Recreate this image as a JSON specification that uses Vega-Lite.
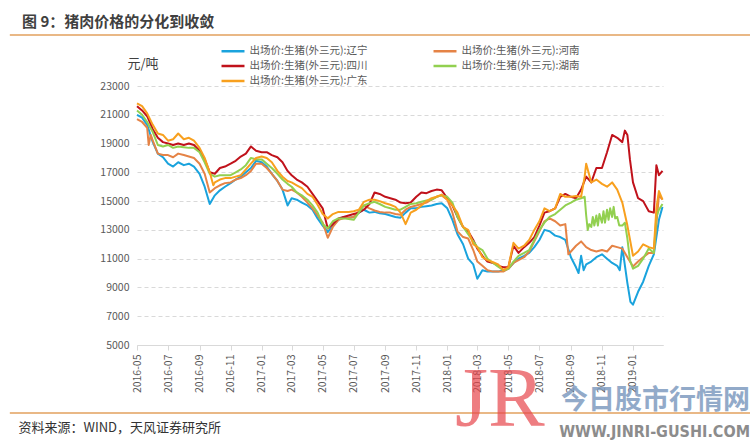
{
"$schema":"https://vega.github.io/schema/vega-lite/v6.json",
"width":526,"height":259,
"autosize":{"type":"none"},
"padding":{"left":137,"top":86,"right":91,"bottom":102},
"background":"white",
"title":{"text":"图 9：猪肉价格的分化到收敛","anchor":"start","frame":"group","dx":-115,"fontSize":15,"fontWeight":"bold","color":"#404040","font":"Noto Sans CJK SC","offset":4},
"config":{"view":{"stroke":null},"font":"Noto Sans CJK SC","axis":{"labelOverlap":false,"labelBound":false,"labelFlush":false}},
"layer":[
{"data":{"values":[{}]},"mark":{"type":"rule","color":"#E2A15E","strokeWidth":1.5},"encoding":{"x":{"datum":{"year":2015,"month":8,"date":25,"utc":true},"type":"temporal"},"x2":{"datum":{"year":2019,"month":8,"date":19,"utc":true}},"y":{"datum":26550,"type":"quantitative"}}},
{"data":{"values":[{}]},"mark":{"type":"rule","color":"#E2A15E","strokeWidth":1.5},"encoding":{"x":{"datum":{"year":2015,"month":8,"date":25,"utc":true},"type":"temporal"},"x2":{"datum":{"year":2019,"month":8,"date":19,"utc":true}},"y":{"datum":270,"type":"quantitative"}}},
{"data":{"values":[
{"d":"2016-05-01","s":"辽宁","v":21000},{"d":"2016-05-11","s":"辽宁","v":20800},{"d":"2016-05-21","s":"辽宁","v":20300},
{"d":"2016-06-01","s":"辽宁","v":19100},{"d":"2016-06-11","s":"辽宁","v":18300},{"d":"2016-06-21","s":"辽宁","v":18050},
{"d":"2016-07-01","s":"辽宁","v":17600},{"d":"2016-07-11","s":"辽宁","v":17400},{"d":"2016-07-21","s":"辽宁","v":17700},
{"d":"2016-08-01","s":"辽宁","v":17500},{"d":"2016-08-11","s":"辽宁","v":17600},{"d":"2016-08-21","s":"辽宁","v":17400},
{"d":"2016-09-01","s":"辽宁","v":16900},{"d":"2016-09-11","s":"辽宁","v":16000},{"d":"2016-09-21","s":"辽宁","v":14800},
{"d":"2016-10-01","s":"辽宁","v":15400},{"d":"2016-10-11","s":"辽宁","v":15750},{"d":"2016-10-21","s":"辽宁","v":16000},
{"d":"2016-11-01","s":"辽宁","v":16250},{"d":"2016-11-11","s":"辽宁","v":16500},{"d":"2016-11-21","s":"辽宁","v":16700},
{"d":"2016-12-01","s":"辽宁","v":17000},{"d":"2016-12-11","s":"辽宁","v":17300},{"d":"2016-12-21","s":"辽宁","v":17800},
{"d":"2017-01-01","s":"辽宁","v":17700},{"d":"2017-01-11","s":"辽宁","v":17400},{"d":"2017-01-21","s":"辽宁","v":16900},
{"d":"2017-02-01","s":"辽宁","v":16400},{"d":"2017-02-11","s":"辽宁","v":15800},{"d":"2017-02-21","s":"辽宁","v":14700},
{"d":"2017-03-01","s":"辽宁","v":15200},{"d":"2017-03-11","s":"辽宁","v":15100},{"d":"2017-03-21","s":"辽宁","v":14900},
{"d":"2017-04-01","s":"辽宁","v":14700},{"d":"2017-04-11","s":"辽宁","v":14400},{"d":"2017-04-21","s":"辽宁","v":13800},
{"d":"2017-05-01","s":"辽宁","v":13300},{"d":"2017-05-11","s":"辽宁","v":12850},{"d":"2017-05-21","s":"辽宁","v":13300},
{"d":"2017-06-01","s":"辽宁","v":13700},{"d":"2017-06-11","s":"辽宁","v":13900},{"d":"2017-06-21","s":"辽宁","v":13850},
{"d":"2017-07-01","s":"辽宁","v":13900},{"d":"2017-07-11","s":"辽宁","v":14200},{"d":"2017-07-21","s":"辽宁","v":14400},
{"d":"2017-08-01","s":"辽宁","v":14200},{"d":"2017-08-11","s":"辽宁","v":14250},{"d":"2017-08-21","s":"辽宁","v":14150},
{"d":"2017-09-01","s":"辽宁","v":14100},{"d":"2017-09-11","s":"辽宁","v":14000},{"d":"2017-09-21","s":"辽宁","v":13900},
{"d":"2017-10-01","s":"辽宁","v":13850},{"d":"2017-10-11","s":"辽宁","v":14200},{"d":"2017-10-21","s":"辽宁","v":14500},
{"d":"2017-11-01","s":"辽宁","v":14500},{"d":"2017-11-11","s":"辽宁","v":14600},{"d":"2017-11-21","s":"辽宁","v":14650},
{"d":"2017-12-01","s":"辽宁","v":14700},{"d":"2017-12-11","s":"辽宁","v":14800},{"d":"2017-12-21","s":"辽宁","v":14850},
{"d":"2018-01-01","s":"辽宁","v":14500},{"d":"2018-01-11","s":"辽宁","v":13700},{"d":"2018-01-21","s":"辽宁","v":12700},
{"d":"2018-02-01","s":"辽宁","v":12000},{"d":"2018-02-11","s":"辽宁","v":11000},{"d":"2018-02-21","s":"辽宁","v":10600},
{"d":"2018-03-01","s":"辽宁","v":9600},{"d":"2018-03-11","s":"辽宁","v":10200},{"d":"2018-03-21","s":"辽宁","v":10100},
{"d":"2018-04-01","s":"辽宁","v":10100},{"d":"2018-04-11","s":"辽宁","v":10100},{"d":"2018-04-21","s":"辽宁","v":10200},
{"d":"2018-05-01","s":"辽宁","v":10300},{"d":"2018-05-11","s":"辽宁","v":10700},{"d":"2018-05-21","s":"辽宁","v":11000},
{"d":"2018-06-01","s":"辽宁","v":11200},{"d":"2018-06-11","s":"辽宁","v":11400},{"d":"2018-06-21","s":"辽宁","v":11800},
{"d":"2018-07-01","s":"辽宁","v":12300},{"d":"2018-07-11","s":"辽宁","v":13000},{"d":"2018-07-21","s":"辽宁","v":12900},
{"d":"2018-08-01","s":"辽宁","v":12600},{"d":"2018-08-11","s":"辽宁","v":12500},{"d":"2018-08-21","s":"辽宁","v":12300},
{"d":"2018-09-01","s":"辽宁","v":11100},{"d":"2018-09-11","s":"辽宁","v":10400},{"d":"2018-09-16","s":"辽宁","v":10000},{"d":"2018-09-21","s":"辽宁","v":11200},{"d":"2018-09-26","s":"辽宁","v":10200},
{"d":"2018-10-01","s":"辽宁","v":10600},{"d":"2018-10-11","s":"辽宁","v":10800},{"d":"2018-10-21","s":"辽宁","v":11100},
{"d":"2018-11-01","s":"辽宁","v":11300},{"d":"2018-11-11","s":"辽宁","v":11000},{"d":"2018-11-21","s":"辽宁","v":10700},
{"d":"2018-12-01","s":"辽宁","v":10500},{"d":"2018-12-06","s":"辽宁","v":10200},{"d":"2018-12-11","s":"辽宁","v":11800},{"d":"2018-12-21","s":"辽宁","v":9300},{"d":"2018-12-27","s":"辽宁","v":8000},
{"d":"2019-01-01","s":"辽宁","v":7800},{"d":"2019-01-11","s":"辽宁","v":8700},{"d":"2019-01-21","s":"辽宁","v":9400},
{"d":"2019-02-01","s":"辽宁","v":10500},{"d":"2019-02-11","s":"辽宁","v":11300},{"d":"2019-02-21","s":"辽宁","v":13700},{"d":"2019-02-28","s":"辽宁","v":14600},

{"d":"2016-05-01","s":"河南","v":20700},{"d":"2016-05-11","s":"河南","v":20500},{"d":"2016-05-21","s":"河南","v":20100},{"d":"2016-05-24","s":"河南","v":18900},{"d":"2016-05-28","s":"河南","v":19600},
{"d":"2016-06-01","s":"河南","v":19200},{"d":"2016-06-11","s":"河南","v":18300},{"d":"2016-06-21","s":"河南","v":18200},
{"d":"2016-07-01","s":"河南","v":18200},{"d":"2016-07-11","s":"河南","v":18050},{"d":"2016-07-21","s":"河南","v":18300},
{"d":"2016-08-01","s":"河南","v":18200},{"d":"2016-08-11","s":"河南","v":18100},{"d":"2016-08-21","s":"河南","v":18000},
{"d":"2016-09-01","s":"河南","v":17600},{"d":"2016-09-11","s":"河南","v":16900},{"d":"2016-09-21","s":"河南","v":15600},
{"d":"2016-10-01","s":"河南","v":15900},{"d":"2016-10-11","s":"河南","v":16100},{"d":"2016-10-21","s":"河南","v":16250},
{"d":"2016-11-01","s":"河南","v":16300},{"d":"2016-11-11","s":"河南","v":16500},{"d":"2016-11-21","s":"河南","v":16600},
{"d":"2016-12-01","s":"河南","v":16800},{"d":"2016-12-11","s":"河南","v":17100},{"d":"2016-12-21","s":"河南","v":17600},
{"d":"2017-01-01","s":"河南","v":17600},{"d":"2017-01-11","s":"河南","v":17300},{"d":"2017-01-21","s":"河南","v":16900},
{"d":"2017-02-01","s":"河南","v":16400},{"d":"2017-02-11","s":"河南","v":15800},{"d":"2017-02-21","s":"河南","v":15700},
{"d":"2017-03-01","s":"河南","v":15800},{"d":"2017-03-11","s":"河南","v":15600},{"d":"2017-03-21","s":"河南","v":15300},
{"d":"2017-04-01","s":"河南","v":14900},{"d":"2017-04-11","s":"河南","v":14500},{"d":"2017-04-21","s":"河南","v":14000},
{"d":"2017-05-01","s":"河南","v":13500},{"d":"2017-05-11","s":"河南","v":12450},{"d":"2017-05-21","s":"河南","v":13200},
{"d":"2017-06-01","s":"河南","v":13700},{"d":"2017-06-11","s":"河南","v":13800},{"d":"2017-06-21","s":"河南","v":13850},
{"d":"2017-07-01","s":"河南","v":13900},{"d":"2017-07-11","s":"河南","v":14300},{"d":"2017-07-21","s":"河南","v":14700},
{"d":"2017-08-01","s":"河南","v":14500},{"d":"2017-08-11","s":"河南","v":14350},{"d":"2017-08-21","s":"河南","v":14250},
{"d":"2017-09-01","s":"河南","v":14200},{"d":"2017-09-11","s":"河南","v":14200},{"d":"2017-09-21","s":"河南","v":14100},
{"d":"2017-10-01","s":"河南","v":14050},{"d":"2017-10-11","s":"河南","v":14400},{"d":"2017-10-21","s":"河南","v":14600},
{"d":"2017-11-01","s":"河南","v":14700},{"d":"2017-11-11","s":"河南","v":14800},{"d":"2017-11-21","s":"河南","v":14900},
{"d":"2017-12-01","s":"河南","v":15100},{"d":"2017-12-11","s":"河南","v":15300},{"d":"2017-12-21","s":"河南","v":15400},
{"d":"2018-01-01","s":"河南","v":15100},{"d":"2018-01-11","s":"河南","v":14200},{"d":"2018-01-21","s":"河南","v":12900},
{"d":"2018-02-01","s":"河南","v":12500},{"d":"2018-02-11","s":"河南","v":12400},{"d":"2018-02-21","s":"河南","v":11600},
{"d":"2018-03-01","s":"河南","v":10800},{"d":"2018-03-11","s":"河南","v":10500},{"d":"2018-03-21","s":"河南","v":10200},
{"d":"2018-04-01","s":"河南","v":10100},{"d":"2018-04-11","s":"河南","v":10100},{"d":"2018-04-21","s":"河南","v":10100},
{"d":"2018-05-01","s":"河南","v":10300},{"d":"2018-05-11","s":"河南","v":10700},{"d":"2018-05-21","s":"河南","v":10900},
{"d":"2018-06-01","s":"河南","v":11100},{"d":"2018-06-11","s":"河南","v":11500},{"d":"2018-06-21","s":"河南","v":12200},
{"d":"2018-07-01","s":"河南","v":12900},{"d":"2018-07-11","s":"河南","v":13600},{"d":"2018-07-21","s":"河南","v":13800},
{"d":"2018-08-01","s":"河南","v":13600},{"d":"2018-08-11","s":"河南","v":13300},{"d":"2018-08-21","s":"河南","v":13400},{"d":"2018-08-27","s":"河南","v":11300},
{"d":"2018-09-01","s":"河南","v":11500},{"d":"2018-09-11","s":"河南","v":11900},{"d":"2018-09-21","s":"河南","v":12200},
{"d":"2018-10-01","s":"河南","v":11800},{"d":"2018-10-11","s":"河南","v":11600},{"d":"2018-10-21","s":"河南","v":11500},
{"d":"2018-11-01","s":"河南","v":11600},{"d":"2018-11-11","s":"河南","v":11500},{"d":"2018-11-21","s":"河南","v":11900},
{"d":"2018-12-01","s":"河南","v":11800},{"d":"2018-12-11","s":"河南","v":11700},{"d":"2018-12-21","s":"河南","v":11100},
{"d":"2019-01-01","s":"河南","v":10450},{"d":"2019-01-11","s":"河南","v":10800},{"d":"2019-01-21","s":"河南","v":11100},
{"d":"2019-02-01","s":"河南","v":11400},{"d":"2019-02-11","s":"河南","v":11400},{"d":"2019-02-21","s":"河南","v":15400},{"d":"2019-02-28","s":"河南","v":15100},

{"d":"2016-05-01","s":"四川","v":21600},{"d":"2016-05-11","s":"四川","v":21300},{"d":"2016-05-21","s":"四川","v":20900},
{"d":"2016-06-01","s":"四川","v":20000},{"d":"2016-06-11","s":"四川","v":19400},{"d":"2016-06-21","s":"四川","v":19100},
{"d":"2016-07-01","s":"四川","v":19000},{"d":"2016-07-11","s":"四川","v":18900},{"d":"2016-07-21","s":"四川","v":19000},
{"d":"2016-08-01","s":"四川","v":18900},{"d":"2016-08-11","s":"四川","v":19000},{"d":"2016-08-21","s":"四川","v":18900},
{"d":"2016-09-01","s":"四川","v":18500},{"d":"2016-09-11","s":"四川","v":17900},{"d":"2016-09-21","s":"四川","v":17000},
{"d":"2016-10-01","s":"四川","v":16900},{"d":"2016-10-11","s":"四川","v":17300},{"d":"2016-10-21","s":"四川","v":17400},
{"d":"2016-11-01","s":"四川","v":17600},{"d":"2016-11-11","s":"四川","v":17800},{"d":"2016-11-21","s":"四川","v":18100},
{"d":"2016-12-01","s":"四川","v":18300},{"d":"2016-12-11","s":"四川","v":18800},{"d":"2016-12-21","s":"四川","v":18500},
{"d":"2017-01-01","s":"四川","v":18400},{"d":"2017-01-11","s":"四川","v":18400},{"d":"2017-01-21","s":"四川","v":18200},
{"d":"2017-02-01","s":"四川","v":18050},{"d":"2017-02-11","s":"四川","v":17700},{"d":"2017-02-21","s":"四川","v":17100},
{"d":"2017-03-01","s":"四川","v":16800},{"d":"2017-03-11","s":"四川","v":16500},{"d":"2017-03-21","s":"四川","v":16300},
{"d":"2017-04-01","s":"四川","v":16000},{"d":"2017-04-11","s":"四川","v":15500},{"d":"2017-04-21","s":"四川","v":15000},
{"d":"2017-05-01","s":"四川","v":14500},{"d":"2017-05-11","s":"四川","v":13100},{"d":"2017-05-21","s":"四川","v":13400},
{"d":"2017-06-01","s":"四川","v":13800},{"d":"2017-06-11","s":"四川","v":13900},{"d":"2017-06-21","s":"四川","v":14000},
{"d":"2017-07-01","s":"四川","v":14100},{"d":"2017-07-11","s":"四川","v":14200},{"d":"2017-07-21","s":"四川","v":14400},
{"d":"2017-08-01","s":"四川","v":14800},{"d":"2017-08-11","s":"四川","v":15600},{"d":"2017-08-21","s":"四川","v":15500},
{"d":"2017-09-01","s":"四川","v":15300},{"d":"2017-09-11","s":"四川","v":15200},{"d":"2017-09-21","s":"四川","v":15100},
{"d":"2017-10-01","s":"四川","v":14900},{"d":"2017-10-11","s":"四川","v":14850},{"d":"2017-10-21","s":"四川","v":14900},
{"d":"2017-11-01","s":"四川","v":15300},{"d":"2017-11-11","s":"四川","v":15600},{"d":"2017-11-21","s":"四川","v":15550},
{"d":"2017-12-01","s":"四川","v":15700},{"d":"2017-12-11","s":"四川","v":15800},{"d":"2017-12-21","s":"四川","v":15750},
{"d":"2018-01-01","s":"四川","v":15200},{"d":"2018-01-11","s":"四川","v":14700},{"d":"2018-01-21","s":"四川","v":13900},
{"d":"2018-02-01","s":"四川","v":13200},{"d":"2018-02-11","s":"四川","v":12900},{"d":"2018-02-21","s":"四川","v":12300},
{"d":"2018-03-01","s":"四川","v":11700},{"d":"2018-03-11","s":"四川","v":11200},{"d":"2018-03-21","s":"四川","v":10800},
{"d":"2018-04-01","s":"四川","v":10700},{"d":"2018-04-11","s":"四川","v":10500},{"d":"2018-04-21","s":"四川","v":10400},
{"d":"2018-05-01","s":"四川","v":10400},{"d":"2018-05-11","s":"四川","v":11900},{"d":"2018-05-21","s":"四川","v":11400},
{"d":"2018-06-01","s":"四川","v":11800},{"d":"2018-06-11","s":"四川","v":12100},{"d":"2018-06-21","s":"四川","v":12500},
{"d":"2018-07-01","s":"四川","v":13300},{"d":"2018-07-11","s":"四川","v":14200},{"d":"2018-07-21","s":"四川","v":14300},
{"d":"2018-08-01","s":"四川","v":14500},{"d":"2018-08-11","s":"四川","v":15300},{"d":"2018-08-21","s":"四川","v":15500},
{"d":"2018-09-01","s":"四川","v":15300},{"d":"2018-09-11","s":"四川","v":15200},{"d":"2018-09-21","s":"四川","v":15800},
{"d":"2018-10-01","s":"四川","v":16700},{"d":"2018-10-11","s":"四川","v":16300},{"d":"2018-10-21","s":"四川","v":17300},
{"d":"2018-11-01","s":"四川","v":17300},{"d":"2018-11-11","s":"四川","v":18400},{"d":"2018-11-21","s":"四川","v":19600},
{"d":"2018-12-01","s":"四川","v":19400},{"d":"2018-12-11","s":"四川","v":19100},{"d":"2018-12-16","s":"四川","v":19900},{"d":"2018-12-21","s":"四川","v":19600},{"d":"2018-12-26","s":"四川","v":17900},
{"d":"2019-01-01","s":"四川","v":16300},{"d":"2019-01-11","s":"四川","v":15200},{"d":"2019-01-21","s":"四川","v":15000},
{"d":"2019-02-01","s":"四川","v":14300},{"d":"2019-02-11","s":"四川","v":14200},{"d":"2019-02-16","s":"四川","v":17500},{"d":"2019-02-21","s":"四川","v":16800},{"d":"2019-02-28","s":"四川","v":17100},

{"d":"2016-05-01","s":"湖南","v":21300},{"d":"2016-05-11","s":"湖南","v":21000},{"d":"2016-05-21","s":"湖南","v":20500},
{"d":"2016-06-01","s":"湖南","v":19800},{"d":"2016-06-11","s":"湖南","v":18900},{"d":"2016-06-21","s":"湖南","v":18800},
{"d":"2016-07-01","s":"湖南","v":18900},{"d":"2016-07-11","s":"湖南","v":18700},{"d":"2016-07-21","s":"湖南","v":18800},
{"d":"2016-08-01","s":"湖南","v":18750},{"d":"2016-08-11","s":"湖南","v":18700},{"d":"2016-08-21","s":"湖南","v":18700},
{"d":"2016-09-01","s":"湖南","v":18400},{"d":"2016-09-11","s":"湖南","v":17700},{"d":"2016-09-21","s":"湖南","v":16900},
{"d":"2016-10-01","s":"湖南","v":16700},{"d":"2016-10-11","s":"湖南","v":16800},{"d":"2016-10-21","s":"湖南","v":16800},
{"d":"2016-11-01","s":"湖南","v":16800},{"d":"2016-11-11","s":"湖南","v":17000},{"d":"2016-11-21","s":"湖南","v":17200},
{"d":"2016-12-01","s":"湖南","v":17500},{"d":"2016-12-11","s":"湖南","v":18000},{"d":"2016-12-21","s":"湖南","v":17900},
{"d":"2017-01-01","s":"湖南","v":17900},{"d":"2017-01-11","s":"湖南","v":17600},{"d":"2017-01-21","s":"湖南","v":17300},
{"d":"2017-02-01","s":"湖南","v":16900},{"d":"2017-02-11","s":"湖南","v":16500},{"d":"2017-02-21","s":"湖南","v":16200},
{"d":"2017-03-01","s":"湖南","v":16000},{"d":"2017-03-11","s":"湖南","v":15600},{"d":"2017-03-21","s":"湖南","v":15400},
{"d":"2017-04-01","s":"湖南","v":15100},{"d":"2017-04-11","s":"湖南","v":14700},{"d":"2017-04-21","s":"湖南","v":14200},
{"d":"2017-05-01","s":"湖南","v":13400},{"d":"2017-05-11","s":"湖南","v":13100},{"d":"2017-05-21","s":"湖南","v":13600},
{"d":"2017-06-01","s":"湖南","v":13800},{"d":"2017-06-11","s":"湖南","v":13800},{"d":"2017-06-21","s":"湖南","v":13750},
{"d":"2017-07-01","s":"湖南","v":13700},{"d":"2017-07-11","s":"湖南","v":14200},{"d":"2017-07-21","s":"湖南","v":14700},
{"d":"2017-08-01","s":"湖南","v":14850},{"d":"2017-08-11","s":"湖南","v":14950},{"d":"2017-08-21","s":"湖南","v":14800},
{"d":"2017-09-01","s":"湖南","v":14600},{"d":"2017-09-11","s":"湖南","v":14500},{"d":"2017-09-21","s":"湖南","v":14400},
{"d":"2017-10-01","s":"湖南","v":14400},{"d":"2017-10-11","s":"湖南","v":14600},{"d":"2017-10-21","s":"湖南","v":14800},
{"d":"2017-11-01","s":"湖南","v":14850},{"d":"2017-11-11","s":"湖南","v":14950},{"d":"2017-11-21","s":"湖南","v":15050},
{"d":"2017-12-01","s":"湖南","v":15100},{"d":"2017-12-11","s":"湖南","v":15300},{"d":"2017-12-21","s":"湖南","v":15400},
{"d":"2018-01-01","s":"湖南","v":15300},{"d":"2018-01-11","s":"湖南","v":14900},{"d":"2018-01-21","s":"湖南","v":13900},
{"d":"2018-02-01","s":"湖南","v":13200},{"d":"2018-02-11","s":"湖南","v":12700},{"d":"2018-02-21","s":"湖南","v":12200},
{"d":"2018-03-01","s":"湖南","v":11800},{"d":"2018-03-11","s":"湖南","v":11600},{"d":"2018-03-21","s":"湖南","v":11000},
{"d":"2018-04-01","s":"湖南","v":10700},{"d":"2018-04-11","s":"湖南","v":10450},{"d":"2018-04-21","s":"湖南","v":10200},
{"d":"2018-05-01","s":"湖南","v":10300},{"d":"2018-05-11","s":"湖南","v":10800},{"d":"2018-05-21","s":"湖南","v":11200},
{"d":"2018-06-01","s":"湖南","v":11400},{"d":"2018-06-11","s":"湖南","v":11600},{"d":"2018-06-21","s":"湖南","v":12300},
{"d":"2018-07-01","s":"湖南","v":13000},{"d":"2018-07-11","s":"湖南","v":13500},{"d":"2018-07-21","s":"湖南","v":13900},
{"d":"2018-08-01","s":"湖南","v":14100},{"d":"2018-08-11","s":"湖南","v":14400},{"d":"2018-08-21","s":"湖南","v":14700},
{"d":"2018-09-01","s":"湖南","v":14900},{"d":"2018-09-11","s":"湖南","v":15100},{"d":"2018-09-21","s":"湖南","v":15200},{"d":"2018-09-28","s":"湖南","v":15300},
{"d":"2018-10-01","s":"湖南","v":14000},{"d":"2018-10-04","s":"湖南","v":13000},{"d":"2018-10-07","s":"湖南","v":13400},{"d":"2018-10-11","s":"湖南","v":13200},{"d":"2018-10-14","s":"湖南","v":13900},{"d":"2018-10-17","s":"湖南","v":13300},{"d":"2018-10-21","s":"湖南","v":14000},{"d":"2018-10-24","s":"湖南","v":13300},{"d":"2018-10-27","s":"湖南","v":14100},
{"d":"2018-11-01","s":"湖南","v":13500},{"d":"2018-11-04","s":"湖南","v":14300},{"d":"2018-11-07","s":"湖南","v":13500},{"d":"2018-11-11","s":"湖南","v":14400},{"d":"2018-11-14","s":"湖南","v":13700},{"d":"2018-11-17","s":"湖南","v":14500},{"d":"2018-11-21","s":"湖南","v":13900},{"d":"2018-11-24","s":"湖南","v":14600},{"d":"2018-11-27","s":"湖南","v":13800},
{"d":"2018-12-01","s":"湖南","v":13900},{"d":"2018-12-05","s":"湖南","v":13300},{"d":"2018-12-11","s":"湖南","v":13300},{"d":"2018-12-16","s":"湖南","v":13500},{"d":"2018-12-21","s":"湖南","v":12400},{"d":"2018-12-26","s":"湖南","v":10900},
{"d":"2019-01-01","s":"湖南","v":10300},{"d":"2019-01-11","s":"湖南","v":10500},{"d":"2019-01-21","s":"湖南","v":11000},
{"d":"2019-02-01","s":"湖南","v":11700},{"d":"2019-02-11","s":"湖南","v":11400},{"d":"2019-02-16","s":"湖南","v":13900},{"d":"2019-02-21","s":"湖南","v":14400},{"d":"2019-02-28","s":"湖南","v":14800},

{"d":"2016-05-01","s":"广东","v":21800},{"d":"2016-05-11","s":"广东","v":21600},{"d":"2016-05-21","s":"广东","v":21100},
{"d":"2016-06-01","s":"广东","v":20300},{"d":"2016-06-11","s":"广东","v":19700},{"d":"2016-06-21","s":"广东","v":19600},
{"d":"2016-07-01","s":"广东","v":19200},{"d":"2016-07-11","s":"广东","v":19300},{"d":"2016-07-21","s":"广东","v":19700},
{"d":"2016-08-01","s":"广东","v":19300},{"d":"2016-08-11","s":"广东","v":19400},{"d":"2016-08-21","s":"广东","v":19200},
{"d":"2016-09-01","s":"广东","v":18700},{"d":"2016-09-11","s":"广东","v":18000},{"d":"2016-09-21","s":"广东","v":17000},{"d":"2016-09-28","s":"广东","v":16100},
{"d":"2016-10-01","s":"广东","v":16300},{"d":"2016-10-11","s":"广东","v":16500},{"d":"2016-10-21","s":"广东","v":16600},
{"d":"2016-11-01","s":"广东","v":16600},{"d":"2016-11-11","s":"广东","v":16700},{"d":"2016-11-21","s":"广东","v":16800},
{"d":"2016-12-01","s":"广东","v":17200},{"d":"2016-12-11","s":"广东","v":17600},{"d":"2016-12-21","s":"广东","v":18000},
{"d":"2017-01-01","s":"广东","v":18100},{"d":"2017-01-11","s":"广东","v":18000},{"d":"2017-01-21","s":"广东","v":17700},
{"d":"2017-02-01","s":"广东","v":17100},{"d":"2017-02-11","s":"广东","v":16700},{"d":"2017-02-21","s":"广东","v":16400},
{"d":"2017-03-01","s":"广东","v":16300},{"d":"2017-03-11","s":"广东","v":16100},{"d":"2017-03-21","s":"广东","v":15900},
{"d":"2017-04-01","s":"广东","v":15500},{"d":"2017-04-11","s":"广东","v":15300},{"d":"2017-04-21","s":"广东","v":14750},
{"d":"2017-05-01","s":"广东","v":14100},{"d":"2017-05-11","s":"广东","v":13800},{"d":"2017-05-21","s":"广东","v":14100},
{"d":"2017-06-01","s":"广东","v":14250},{"d":"2017-06-11","s":"广东","v":14250},{"d":"2017-06-21","s":"广东","v":14250},
{"d":"2017-07-01","s":"广东","v":14300},{"d":"2017-07-11","s":"广东","v":14400},{"d":"2017-07-21","s":"广东","v":14950},
{"d":"2017-08-01","s":"广东","v":15100},{"d":"2017-08-11","s":"广东","v":15100},{"d":"2017-08-21","s":"广东","v":15000},
{"d":"2017-09-01","s":"广东","v":14850},{"d":"2017-09-11","s":"广东","v":14750},{"d":"2017-09-21","s":"广东","v":14600},
{"d":"2017-10-01","s":"广东","v":14200},{"d":"2017-10-11","s":"广东","v":13400},{"d":"2017-10-21","s":"广东","v":14200},
{"d":"2017-11-01","s":"广东","v":14400},{"d":"2017-11-11","s":"广东","v":14700},{"d":"2017-11-21","s":"广东","v":15000},
{"d":"2017-12-01","s":"广东","v":15200},{"d":"2017-12-11","s":"广东","v":15300},{"d":"2017-12-21","s":"广东","v":15450},
{"d":"2018-01-01","s":"广东","v":15100},{"d":"2018-01-11","s":"广东","v":14700},{"d":"2018-01-21","s":"广东","v":14200},
{"d":"2018-02-01","s":"广东","v":13200},{"d":"2018-02-11","s":"广东","v":13000},{"d":"2018-02-21","s":"广东","v":12000},
{"d":"2018-03-01","s":"广东","v":11800},{"d":"2018-03-11","s":"广东","v":11100},{"d":"2018-03-21","s":"广东","v":10900},
{"d":"2018-04-01","s":"广东","v":10750},{"d":"2018-04-11","s":"广东","v":10600},{"d":"2018-04-21","s":"广东","v":10200},
{"d":"2018-05-01","s":"广东","v":10400},{"d":"2018-05-11","s":"广东","v":12100},{"d":"2018-05-21","s":"广东","v":11700},
{"d":"2018-06-01","s":"广东","v":11900},{"d":"2018-06-11","s":"广东","v":12300},{"d":"2018-06-21","s":"广东","v":13000},
{"d":"2018-07-01","s":"广东","v":13600},{"d":"2018-07-11","s":"广东","v":14500},{"d":"2018-07-21","s":"广东","v":14300},
{"d":"2018-08-01","s":"广东","v":14500},{"d":"2018-08-11","s":"广东","v":15500},{"d":"2018-08-21","s":"广东","v":15300},
{"d":"2018-09-01","s":"广东","v":15300},{"d":"2018-09-11","s":"广东","v":15350},{"d":"2018-09-21","s":"广东","v":15300},{"d":"2018-09-28","s":"广东","v":16700},
{"d":"2018-10-01","s":"广东","v":17600},{"d":"2018-10-11","s":"广东","v":16300},{"d":"2018-10-21","s":"广东","v":16500},
{"d":"2018-11-01","s":"广东","v":16200},{"d":"2018-11-11","s":"广东","v":16000},{"d":"2018-11-21","s":"广东","v":16300},
{"d":"2018-12-01","s":"广东","v":15800},{"d":"2018-12-11","s":"广东","v":14900},{"d":"2018-12-21","s":"广东","v":13300},
{"d":"2019-01-01","s":"广东","v":11200},{"d":"2019-01-11","s":"广东","v":11500},{"d":"2019-01-21","s":"广东","v":12000},
{"d":"2019-02-01","s":"广东","v":11800},{"d":"2019-02-11","s":"广东","v":11700},{"d":"2019-02-16","s":"广东","v":14500},{"d":"2019-02-21","s":"广东","v":15700},{"d":"2019-02-28","s":"广东","v":15100}
]},
"mark":{"type":"line","strokeWidth":2,"strokeJoin":"round"},
"encoding":{
"x":{"field":"d","type":"temporal","scale":{"type":"utc","domain":[{"year":2016,"month":5,"date":1,"utc":true},{"year":2019,"month":3,"date":1,"utc":true}]},
"axis":{"values":[{"year":2016,"month":5,"date":1,"utc":true},{"year":2016,"month":7,"date":1,"utc":true},{"year":2016,"month":9,"date":1,"utc":true},{"year":2016,"month":11,"date":1,"utc":true},{"year":2017,"month":1,"date":1,"utc":true},{"year":2017,"month":3,"date":1,"utc":true},{"year":2017,"month":5,"date":1,"utc":true},{"year":2017,"month":7,"date":1,"utc":true},{"year":2017,"month":9,"date":1,"utc":true},{"year":2017,"month":11,"date":1,"utc":true},{"year":2018,"month":1,"date":1,"utc":true},{"year":2018,"month":3,"date":1,"utc":true},{"year":2018,"month":5,"date":1,"utc":true},{"year":2018,"month":7,"date":1,"utc":true},{"year":2018,"month":9,"date":1,"utc":true},{"year":2018,"month":11,"date":1,"utc":true},{"year":2019,"month":1,"date":1,"utc":true}],
"tickCount":40,"format":"%Y-%m","labelAngle":-90,"labelOverlap":false,"labelColor":"#595959","labelFontSize":10.5,"labelPadding":4,"domainColor":"#d9d9d9","tickColor":"#d9d9d9","tickSize":5,"grid":false,
"title":"资料来源：WIND，天风证券研究所","titleX":-119,"titleY":82,"titleAlign":"left","titleBaseline":"middle","titleFontSize":13,"titleFontWeight":"normal","titleColor":"#333333"}},
"y":{"field":"v","type":"quantitative","scale":{"domain":[5000,23000],"nice":false,"zero":false},
"axis":{"values":[5000,7000,9000,11000,13000,15000,17000,19000,21000,23000],"tickCount":20,"format":"d","labelOverlap":false,"grid":true,"gridDash":[4,3],"gridColor":"#d9d9d9","domain":false,"ticks":false,"labelColor":"#595959","labelFontSize":10.5,"labelPadding":8,
"title":"元/吨","titleAngle":0,"titleX":-10,"titleY":-23,"titleAlign":"left","titleBaseline":"middle","titleFontSize":13,"titleFontWeight":"normal","titleColor":"#404040"}},
"color":{"field":"s","type":"nominal","scale":{"domain":["辽宁","四川","广东","河南","湖南"],"range":["#1AA3DD","#C0121B","#F8A01E","#E58346","#92D050"]},
"legend":{"orient":"none","legendX":89,"legendY":-42,"columns":2,"columnPadding":60,"rowPadding":2,"padding":0,"symbolType":"M-2,0H2","symbolSize":132,"symbolStrokeWidth":2.5,"labelFontSize":10.5,"labelColor":"#595959","labelOffset":9.5,"title":null,"labelExpr":"'出场价:生猪(外三元):' + datum.label"}}
}},
{"data":{"values":[{}]},"mark":{"type":"text","text":"JR","font":"Liberation Serif","fontSize":85,"color":"#E8474C","opacity":0.7,"align":"left","baseline":"alphabetic"},"encoding":{"x":{"datum":{"year":2018,"month":1,"date":16,"utc":true},"type":"temporal"},"y":{"datum":-630,"type":"quantitative"}}},
{"data":{"values":[{}]},"mark":{"type":"text","text":"今日股市行情网","font":"Noto Sans CJK SC","fontWeight":"bold","fontSize":27,"color":"#7F9CC0","opacity":0.85,"align":"right","baseline":"middle"},"encoding":{"x":{"datum":{"year":2019,"month":8,"date":19,"utc":true},"type":"temporal"},"y":{"datum":1100,"type":"quantitative"}}},
{"data":{"values":[{}]},"mark":{"type":"text","text":"WWW.JINRI-GUSHI.COM","font":"Liberation Sans Narrow, DejaVu Sans Condensed","fontWeight":"bold","fontSize":16,"color":"#8C8C8C","align":"right","baseline":"middle"},"encoding":{"x":{"datum":{"year":2019,"month":8,"date":19,"utc":true},"type":"temporal"},"y":{"datum":-1050,"type":"quantitative"}}}
]
}
